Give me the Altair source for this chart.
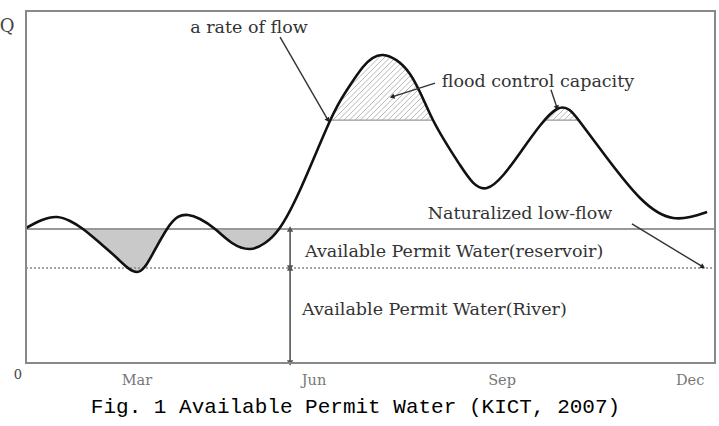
import math
import altair as alt
import pandas as pd

# Plot area size (pixels) and data extents
W, H = 689, 352
DAY_MAX, Q_MAX = 365, 100
FONT = "DejaVu Serif"
CURVE = "natural"

# Hydrograph: day of year vs. discharge Q (relative units)
flow_day = [0, 8.48, 16.42, 23.31, 30.2, 39.2, 48.74, 58.8, 66.75, 74.7,
            80.52, 85.82, 92.18, 100.13, 109.13, 118.66, 126.61, 134.03, 145.16,
            161.0, 170.0, 178.5, 189.1, 203.4, 215.6, 229.9, 244.2,
            262.8, 281.3, 293.5, 307.8, 325.3, 342.8, 360.8]
flow_q = [38.35, 40.62, 41.48, 40.34, 38.07, 34.09, 29.55, 25.85, 30.68, 38.07,
          41.48, 42.05, 40.91, 38.07, 34.09, 32.39, 34.09, 38.07, 49.15,
          68.75, 77.56, 84.09, 87.5, 82.1, 69.03, 56.25, 49.72,
          60.51, 72.16, 68.47, 58.24, 46.88, 41.19, 42.9]

LOW_FLOW = 38.07        # naturalized low-flow
RESERVOIR_LEVEL = 27.0  # limit of river permit water
FLOOD_LEVEL = 69.0      # flood control level

tick_days = [58.8, 152.6, 252.2, 351.8]
tick_names = ["Mar", "Jun", "Sep", "Dec"]

px_day = W / DAY_MAX
px_q = H / Q_MAX

xs = alt.Scale(domain=[0, DAY_MAX], nice=False, zero=False)
ys = alt.Scale(domain=[0, Q_MAX], nice=False, zero=False)


def X(f, **kw):
    return alt.X(f, type="quantitative", scale=xs, axis=None, **kw)


def Y(f, **kw):
    return alt.Y(f, type="quantitative", scale=ys, axis=None, **kw)


flow = pd.DataFrame({"day": flow_day, "q": flow_q})

# --- shaded deficit below the low-flow line
deficit = pd.DataFrame({"x0": [2], "x1": [140], "y0": [20], "y1": [LOW_FLOW]})
deficit_rect = alt.Chart(deficit).mark_rect(color="#c9c9c9").encode(
    x=X("x0"), x2="x1", y=Y("y0"), y2="y1")
mask_below = alt.Chart(flow).mark_area(color="white", interpolate=CURVE).encode(
    x=X("day"), y=Y("q"), y2=alt.datum(15))

# --- hatched flood-control volume above the flood level
hatch_rise = 21.0
hatch_run = hatch_rise * px_q / px_day
hatch_step = 5.5 / px_day
hatch_start = [148 + i * hatch_step for i in range(int((300 - 148) / hatch_step))]
hatch = pd.DataFrame({"x0": hatch_start,
                      "x1": [h + hatch_run for h in hatch_start],
                      "y0": FLOOD_LEVEL, "y1": FLOOD_LEVEL + hatch_rise})
hatch_rules = alt.Chart(hatch).mark_rule(color="#b0b0b0", strokeWidth=0.9).encode(
    x=X("x0"), x2="x1", y=Y("y0"), y2="y1")
flood_rule = alt.Chart(pd.DataFrame({"x0": [150], "x1": [flow_day[-1]], "y": [FLOOD_LEVEL]})).mark_rule(
    color="#999999", strokeWidth=1.2).encode(x=X("x0"), x2="x1", y=Y("y"))
mask_above = alt.Chart(flow).transform_filter(alt.datum.day >= 134).mark_area(
    color="white", interpolate=CURVE).encode(x=X("day"), y=Y("q"), y2=alt.datum(95))

# --- reference levels
levels = pd.DataFrame({"x0": [0], "x1": [DAY_MAX], "low": [LOW_FLOW], "res": [RESERVOIR_LEVEL]})
low_rule = alt.Chart(levels).mark_rule(color="#999999", strokeWidth=2).encode(
    x=X("x0"), x2="x1", y=Y("low"))
res_rule = alt.Chart(levels).mark_rule(color="#888888", strokeWidth=1.6, strokeDash=[2, 2]).encode(
    x=X("x0"), x2="x1", y=Y("res"))

# --- the flow curve
curve = alt.Chart(flow).mark_line(color="#111111", strokeWidth=2.6, interpolate=CURVE).encode(
    x=X("day"), y=Y("q"))

# --- vertical dimension arrows for the permit water
DIM_DAY = 139.9
dims = pd.DataFrame({"x": [DIM_DAY, DIM_DAY], "y0": [LOW_FLOW, RESERVOIR_LEVEL], "y1": [RESERVOIR_LEVEL, 0]})
dim_rules = alt.Chart(dims).mark_rule(color="#555555", strokeWidth=1.6).encode(
    x=X("x"), y=Y("y0"), y2="y1")
heads = pd.DataFrame({"x": [DIM_DAY] * 4,
                      "y": [LOW_FLOW, RESERVOIR_LEVEL, RESERVOIR_LEVEL, 0],
                      "shape": ["triangle-up", "triangle-down", "triangle-up", "triangle-down"],
                      "off": [4, -4, 4, -4]})
dim_heads = alt.Chart(heads).mark_point(filled=True, color="#555555", size=40, opacity=1).encode(
    x=X("x"), y=Y("y"), shape=alt.Shape("shape:N", scale=None), yOffset=alt.YOffset("off:Q", scale=None))

# --- annotation arrows (start -> tip)
ann = pd.DataFrame({
    "x0": [134.6, 216.7, 278.1, 321.0],
    "y0": [92.6, 79.5, 77.6, 39.5],
    "x1": [160.0, 193.9, 281.3, 358.6],
    "y1": [69.0, 75.6, 72.5, 27.3],
})
ang, ox, oy = [], [], []
for a, b, c, d in zip(ann.x0, ann.y0, ann.x1, ann.y1):
    dx = (c - a) * px_day
    dy = -(d - b) * px_q
    L = math.hypot(dx, dy)
    ang.append((math.degrees(math.atan2(dx, -dy)) + 360) % 360)
    ox.append(-dx / L * 3)
    oy.append(-dy / L * 3)
ann["angle"] = ang
ann["ox"] = ox
ann["oy"] = oy
ann_lines = alt.Chart(ann).mark_rule(color="#333333", strokeWidth=1.4).encode(
    x=X("x0"), x2="x1", y=Y("y0"), y2="y1")
ann_heads = alt.Chart(ann).mark_point(shape="triangle-up", filled=True, color="#222222",
                                      size=30, opacity=1).encode(
    x=X("x1"), y=Y("y1"), angle=alt.Angle("angle:Q", scale=None),
    xOffset=alt.XOffset("ox:Q", scale=None), yOffset=alt.YOffset("oy:Q", scale=None))

# --- labels
labels = pd.DataFrame({
    "x": [118.1, 271.2, 261.7],
    "y": [95.2, 79.8, 42.3],
    "text": ["a rate of flow", "flood control capacity", "Naturalized low-flow"],
})
label_text = alt.Chart(labels).mark_text(font=FONT, fontSize=17.5, color="#333333").encode(
    x=X("x"), y=Y("y"), text="text:N")
permit = pd.DataFrame({
    "x": [147.8, 146.2],
    "y": [31.5, 15.1],
    "text": ["Available Permit Water(reservoir)", "Available Permit Water(River)"],
})
permit_text = alt.Chart(permit).mark_text(font=FONT, fontSize=17.5, color="#333333", align="left").encode(
    x=X("x"), y=Y("y"), text="text:N")

ticks = pd.DataFrame({"day": tick_days, "name": tick_names})
tick_text = alt.Chart(ticks).mark_text(font=FONT, fontSize=14.5, color="#777777", baseline="middle").encode(
    x=X("day"), y=alt.value(H + 18), text="name:N")

corner = pd.DataFrame({"text": ["Q", "0"], "px": [-19, -8], "py": [16, 12 + H], "size": [18, 13]})
corner_text = alt.Chart(corner).mark_text(font=FONT, color="#444444", baseline="middle").encode(
    x=alt.X("px:Q", scale=None), y=alt.Y("py:Q", scale=None), text="text:N",
    size=alt.Size("size:Q", scale=None))

# plot frame drawn last so nothing hides it
frame = alt.Chart(pd.DataFrame({"k": [0]})).mark_rect(
    fill=None, stroke="#888888", strokeWidth=2).encode(
    x=alt.value(0), x2=alt.value(W), y=alt.value(0), y2=alt.value(H))

chart = alt.layer(
    deficit_rect, mask_below, hatch_rules, flood_rule, mask_above,
    low_rule, res_rule, curve, dim_rules, dim_heads,
    ann_lines, ann_heads, label_text, permit_text, tick_text, corner_text, frame,
).properties(
    width=W, height=H,
    autosize=alt.AutoSizeParams(type="none"),
    padding={"left": 26, "top": 11, "right": 4, "bottom": 63},
    title=alt.TitleParams("Fig. 1 Available Permit Water (KICT, 2007)", orient="bottom",
                          font="Liberation Mono", fontSize=21, fontWeight="normal", color="#000000",
                          offset=8, dx=-15),
).configure_view(stroke=None)

chart.save("out.html", embed_options={"renderer": "svg", "actions": False})
